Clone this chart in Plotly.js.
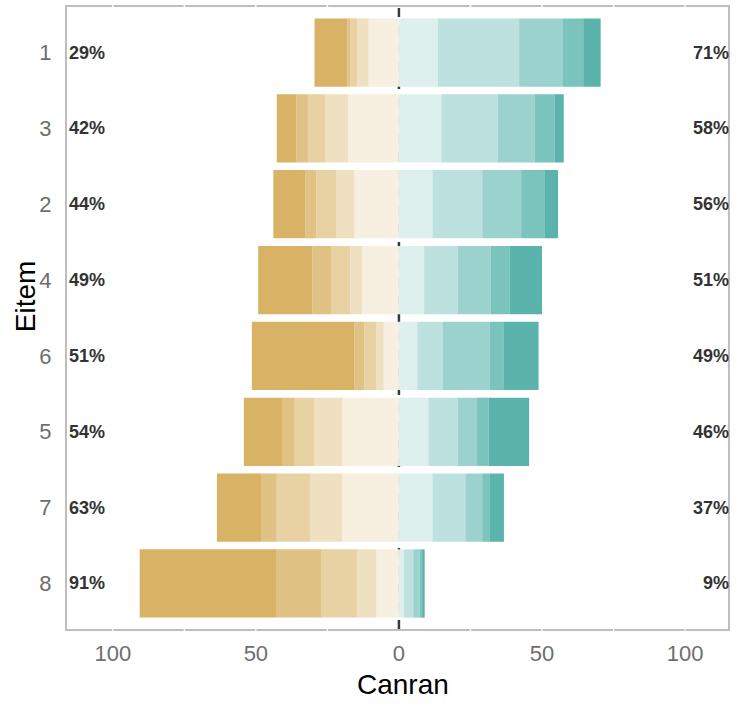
<!DOCTYPE html>
<html>
<head>
<meta charset="utf-8">
<script src="https://cdn.plot.ly/plotly-3.0.1.min.js"></script>
<style>html,body{margin:0;padding:0;background:#fff;}#chart{width:743px;height:711px;}</style>
</head>
<body>
<div id="chart"></div>
<script>
// Items, top to bottom
const items = ["1", "3", "2", "4", "6", "5", "7", "8"];

// Disagreeing side (levels 1..5, level 1 outermost / darkest), percentages
const level1 = [11.5, 6.8, 11.3, 18.9, 35.9, 13.6, 15.4, 47.9];
const level2 = [1.1, 4.1, 3.8, 6.8, 3.4, 4.2, 5.5, 15.7];
const level3 = [2.3, 6.0, 6.8, 6.5, 4.1, 6.9, 11.6, 12.3];
const level4 = [4.0, 8.1, 6.5, 4.1, 2.7, 9.8, 11.4, 6.8];
const level5 = [10.6, 17.7, 15.5, 12.9, 5.3, 19.7, 19.7, 7.9];

// Agreeing side (levels 6..10, level 10 outermost / darkest), percentages
const level6 = [13.6, 14.8, 11.7, 8.8, 6.4, 10.3, 11.7, 1.7];
const level7 = [28.4, 19.7, 17.4, 11.7, 8.8, 10.2, 11.5, 3.3];
const level8 = [15.1, 12.9, 13.6, 11.6, 16.6, 6.8, 5.9, 2.3];
const level9 = [7.3, 7.1, 8.1, 6.5, 4.9, 4.1, 2.7, 0.8];
const level10 = [6.1, 3.1, 4.8, 11.4, 12.1, 14.1, 4.9, 0.9];

// Percent labels
const leftPct = ["29%", "42%", "44%", "49%", "51%", "54%", "63%", "91%"];
const rightPct = ["71%", "58%", "56%", "51%", "49%", "46%", "37%", "9%"];

// Axis ticks
const xTickVals = [-100, -50, 0, 50, 100];
const xTickText = ["100", "50", "0", "50", "100"];
const xMinorVals = [-100, -75, -50, -25, 25, 50, 75, 100];

const colors = {
  l1: "#D8B365", l2: "#E0C284", l3: "#E8D1A3", l4: "#EFE0C1", l5: "#F7F0E0",
  l6: "#DEF0EE", l7: "#BDE1DE", l8: "#9CD2CD", l9: "#7BC3BD", l10: "#5AB4AC"
};

function bar(vals, color, neg) {
  return {
    type: "bar", orientation: "h", y: items,
    x: vals.map(v => neg ? -v : v),
    marker: {color: color, line: {width: 0}},
    hoverinfo: "skip", showlegend: false
  };
}

const traces = [
  bar(level5, colors.l5, true),
  bar(level4, colors.l4, true),
  bar(level3, colors.l3, true),
  bar(level2, colors.l2, true),
  bar(level1, colors.l1, true),
  bar(level6, colors.l6, false),
  bar(level7, colors.l7, false),
  bar(level8, colors.l8, false),
  bar(level9, colors.l9, false),
  bar(level10, colors.l10, false)
];

const pctFont = {family: "Liberation Sans, Arial, sans-serif", size: 18, color: "#333333", weight: "bold"};
const annotations = [];
items.forEach((it, i) => {
  // category positions are addressed by index on the category axis
  annotations.push({xref: "paper", yref: "y", x: 0, y: i, text: leftPct[i],
    xanchor: "left", yanchor: "middle", xshift: 0, showarrow: false, font: pctFont});
  annotations.push({xref: "paper", yref: "y", x: 1, y: i, text: rightPct[i],
    xanchor: "right", yanchor: "middle", xshift: 3, showarrow: false, font: pctFont});
});
annotations.push({xref: "paper", yref: "paper", x: -0.0636, y: 0.535, text: "Eitem",
  textangle: -90, xanchor: "center", yanchor: "middle", showarrow: false,
  font: {family: "Liberation Sans, Arial, sans-serif", size: 28, color: "#000"}});
annotations.push({xref: "paper", yref: "paper", x: 0.509, y: -0.09, text: "Canran",
  xanchor: "center", yanchor: "middle", showarrow: false,
  font: {family: "Liberation Sans, Arial, sans-serif", size: 28, color: "#000"}});

const shapes = [{
  type: "line", xref: "x", yref: "paper", x0: 0, x1: 0, y0: 0, y1: 1,
  layer: "below", line: {color: "#3a3a3a", width: 2.5, dash: "dash"}
}];
xMinorVals.forEach(v => {
  shapes.push({type: "line", xref: "x", yref: "paper", x0: v, x1: v, y0: 0.994, y1: 1.006,
    layer: "above", line: {color: "#ffffff", width: 1.5}});
  shapes.push({type: "line", xref: "x", yref: "paper", x0: v, x1: v, y0: -0.006, y1: 0.004,
    layer: "above", line: {color: "#ffffff", width: 1.2}});
});

const layout = {
  width: 743, height: 711,
  margin: {l: 67, r: 15, t: 7, b: 82},
  paper_bgcolor: "#fff", plot_bgcolor: "#fff",
  barmode: "relative", bargap: 0.1,
  showlegend: false,
  font: {family: "Liberation Sans, Arial, sans-serif"},
  xaxis: {
    range: [-116, 115], tickvals: xTickVals, ticktext: xTickText,
    showgrid: false, zeroline: false,
    showline: true, mirror: true, linecolor: "#BEBEBE", linewidth: 2,
    ticks: "outside", ticklen: 4, tickcolor: "rgba(0,0,0,0)",
    tickfont: {size: 22, color: "#6e6e6e"}, fixedrange: true
  },
  yaxis: {
    type: "category", categoryarray: items, categoryorder: "array",
    range: [7.6, -0.6],
    showgrid: false, zeroline: false,
    showline: true, mirror: true, linecolor: "#BEBEBE", linewidth: 2,
    ticks: "outside", ticklen: 9, tickcolor: "rgba(0,0,0,0)",
    tickfont: {size: 22, color: "#6e6e6e"}, fixedrange: true
  },
  annotations: annotations,
  shapes: shapes
};

Plotly.newPlot("chart", traces, layout, {displayModeBar: false, staticPlot: true});
</script>
</body>
</html>
